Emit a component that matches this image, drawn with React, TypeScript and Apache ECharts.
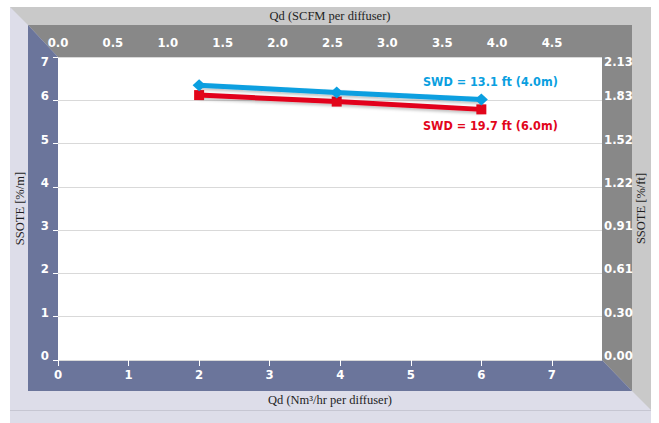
import { useEffect, useRef } from "react";
import * as echarts from "echarts";

// ---- data ----
const flowNm3 = [2, 3.95, 6];
const ssoteSwd4m = [6.35, 6.18, 6.02];
const ssoteSwd6m = [6.12, 5.97, 5.79];
const seriesNames = ["SWD = 13.1 ft (4.0m)", "SWD = 19.7 ft (6.0m)"];
const bottomTicks = [0, 1, 2, 3, 4, 5, 6, 7];
const topTicks = [0, 0.5, 1, 1.5, 2, 2.5, 3, 3.5, 4, 4.5];
const leftTicks = [0, 1, 2, 3, 4, 5, 6, 7];
const rightTickLabels = ["0.00", "0.30", "0.61", "0.91", "1.22", "1.52", "1.83", "2.13"];
const bottomMax = 7.71;
const topMax = 4.955;
const titleTop = "Qd (SCFM per diffuser)";
const titleBottom = "Qd (Nm³/hr per diffuser)";
const titleLeft = "SSOTE [%/m]";
const titleRight = "SSOTE [%/ft]";

// ---- layout / style ----
const W = 659;
const H = 423;
const PL = 58, PT = 57, PR = 602, PB = 360; // plot area
const OL = 10, OT = 7, OR = 651; // outer frame
const IL = 28, IT = 25, IR = 632, IB = 391; // inner frame
const SEP = 410;

const LAVENDER = "#dddde9";
const LIGHTGRAY = "#c9c9c9";
const DARKGRAY = "#888888";
const SLATE = "#6b759b";
const BLUE = "#0a9fe0";
const RED = "#e2061b";
const TICKFONT = "'DejaVu Sans Condensed', 'DejaVu Sans', sans-serif";
const TITLEFONT = "'Liberation Serif', serif";

const shiftLabel = (text: string, isTop: boolean) => (isTop ? "\n" + text : text + "\n");

export default function App() {
  const ref = useRef<HTMLDivElement>(null);
  useEffect(() => {
    if (!ref.current) return;
    const chart = echarts.init(ref.current, undefined, { renderer: "svg" });
    const tickLabel = {
      color: "#ffffff",
      fontWeight: "bold" as const,
      fontSize: 13,
      fontFamily: TICKFONT,
    };
    const nameStyle = { color: "#1e1e1e", fontSize: 12.5, fontFamily: TITLEFONT };
    const maxLeft = leftTicks[leftTicks.length - 1];
    chart.setOption({
      animation: false,
      backgroundColor: "#ffffff",
      graphic: {
        elements: [
          { type: "rect", z: -10, silent: true, shape: { x: OL, y: OT, width: OR - OL, height: H - OT }, style: { fill: LAVENDER } },
          {
            type: "polygon", z: -9, silent: true,
            shape: { points: [[OL, OT], [OR, OT], [OR, SEP], [IR, IB], [IR, IT], [IL, IT]] },
            style: { fill: LIGHTGRAY },
          },
          {
            type: "polygon", z: -9, silent: true,
            shape: { points: [[IL, IT], [IR, IT], [IR, IB], [PR, PB], [PR, PT], [PL, PT]] },
            style: { fill: DARKGRAY },
          },
          {
            type: "polygon", z: -9, silent: true,
            shape: { points: [[IL, IT], [PL, PT], [PL, PB], [PR, PB], [IR, IB], [IL, IB]] },
            style: { fill: SLATE },
          },
          {
            type: "line", z: -8, silent: true,
            shape: { x1: OL, y1: SEP + 0.5, x2: OR, y2: SEP + 0.5 },
            style: { stroke: "#c6c6d2", lineWidth: 1 },
          },
        ],
      },
      grid: {
        left: PL, top: PT, right: W - PR, bottom: H - PB,
        containLabel: false, outerBoundsMode: "none",
        show: true, backgroundColor: "#ffffff", borderWidth: 0,
      },
      xAxis: [
        {
          type: "value", position: "bottom", min: 0, max: bottomMax,
          name: titleBottom, nameLocation: "middle", nameGap: 33, nameMoveOverlap: false, nameTextStyle: nameStyle,
          axisLine: { show: false },
          axisTick: { show: true, length: 6, customValues: bottomTicks, lineStyle: { color: "#ffffff", width: 1 } },
          axisLabel: { ...tickLabel, margin: 8, customValues: bottomTicks, formatter: (v: number) => String(v) },
          splitLine: { show: false },
        },
        {
          type: "value", position: "top", min: 0, max: topMax,
          name: titleTop, nameLocation: "middle", nameGap: 35, nameMoveOverlap: false, nameTextStyle: nameStyle,
          axisLine: { show: false },
          axisTick: { show: true, length: 7, customValues: topTicks, lineStyle: { color: "#ffffff", width: 1 } },
          axisLabel: { ...tickLabel, margin: 8, customValues: topTicks, formatter: (v: number) => v.toFixed(1) },
          splitLine: { show: false },
        },
      ],
      yAxis: [
        {
          type: "value", position: "left", min: 0, max: maxLeft, interval: 1,
          name: titleLeft, nameLocation: "middle", nameGap: 32, nameMoveOverlap: false, nameRotate: 90, nameTextStyle: nameStyle,
          axisLine: { show: false },
          axisTick: { show: true, length: 5, lineStyle: { color: "#ffffff", width: 1 } },
          axisLabel: {
            ...tickLabel, margin: 9, lineHeight: 9,
            formatter: (v: number) => shiftLabel(String(v), v === maxLeft),
          },
          splitLine: { show: true, lineStyle: { color: "#d9d9d9", width: 1 } },
        },
        {
          type: "value", position: "right", min: 0, max: maxLeft, interval: 1,
          name: titleRight, nameLocation: "middle", nameGap: 32, nameMoveOverlap: false, nameRotate: 90, nameTextStyle: nameStyle,
          axisLine: { show: false },
          axisTick: { show: false },
          axisLabel: {
            ...tickLabel, margin: 2, lineHeight: 9,
            formatter: (v: number) => shiftLabel(rightTickLabels[Math.round(v)] ?? "", v === maxLeft),
          },
          splitLine: { show: false },
        },
      ],
      series: [
        {
          name: seriesNames[0], type: "line", xAxisIndex: 0, yAxisIndex: 0,
          symbol: "diamond", symbolSize: [13, 12],
          itemStyle: { color: BLUE },
          lineStyle: { color: BLUE, width: 5, shadowColor: "rgba(0,0,0,0.25)", shadowBlur: 3, shadowOffsetY: 2 },
          z: 4,
          data: flowNm3.map((x, i) => ({
            value: [x, ssoteSwd4m[i]],
            label: i === flowNm3.length - 1
              ? { show: true, position: "top", distance: 5, offset: [9, 0], formatter: seriesNames[0], color: BLUE, fontWeight: "bold", fontSize: 12.5, fontFamily: TICKFONT }
              : { show: false },
          })),
        },
        {
          name: seriesNames[1], type: "line", xAxisIndex: 0, yAxisIndex: 0,
          symbol: "rect", symbolSize: 10,
          itemStyle: { color: RED },
          lineStyle: { color: RED, width: 5, shadowColor: "rgba(0,0,0,0.25)", shadowBlur: 3, shadowOffsetY: 2 },
          z: 3,
          data: flowNm3.map((x, i) => ({
            value: [x, ssoteSwd6m[i]],
            label: i === flowNm3.length - 1
              ? { show: true, position: "bottom", distance: 5, offset: [9, 0], formatter: seriesNames[1], color: RED, fontWeight: "bold", fontSize: 12.5, fontFamily: TICKFONT }
              : { show: false },
          })),
        },
      ],
    });
    return () => chart.dispose();
  }, []);
  return (
    <div
      ref={ref}
      style={{ position: "absolute", left: 0, top: 0, width: W, height: H }}
    />
  );
}
